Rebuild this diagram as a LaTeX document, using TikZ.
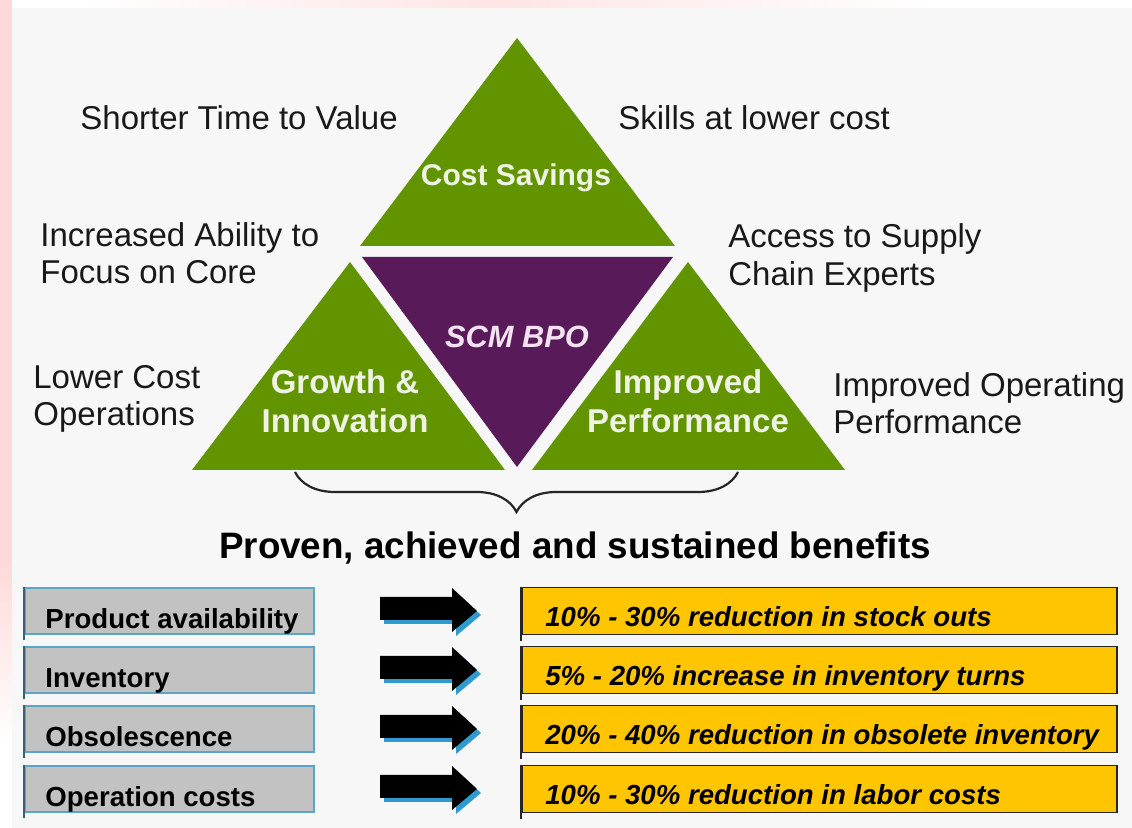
\documentclass[tikz,border=0pt]{standalone}
\usepackage{fontspec}
\setmainfont{Liberation Sans}
\usetikzlibrary{decorations.pathreplacing}
\definecolor{bg}{HTML}{F7F7F7}
\definecolor{tgreen}{RGB}{98,148,0}
\definecolor{tpurple}{RGB}{88,26,88}
\definecolor{tlight}{HTML}{EEF3E4}
\definecolor{scmtxt}{HTML}{F3E3F0}
\definecolor{gbox}{HTML}{C2C2C2}
\definecolor{gborder}{HTML}{5AA5C8}
\definecolor{ybox}{HTML}{FFC600}
\definecolor{ashadow}{HTML}{2F9ACF}
\definecolor{pinkish}{HTML}{FFD9D9}
\begin{document}
\begin{tikzpicture}[x=0.5pt,y=-0.5pt,
  side/.style={font=\fontsize{16.5}{18.75}\selectfont, align=left, anchor=west, inner sep=0, text=black!90},
  tri/.style={font=\bfseries\fontsize{16.5}{19.5}\selectfont, text=tlight, align=center, inner sep=0},
  rowtxt/.style={font=\bfseries\fontsize{13.8}{16}\selectfont, anchor=base west, inner sep=0},
  restxt/.style={font=\bfseries\itshape\fontsize{13.8}{16}\selectfont, anchor=base west, inner sep=0},
  graybox/.style={fill=gbox, draw=gborder, line width=1pt, minimum width=144.5pt, minimum height=23pt, inner sep=0},
  yellowbox/.style={fill=ybox, draw=black!85, line width=0.9pt, minimum width=297.5pt, minimum height=23.5pt, inner sep=0},
  blockarrow/.style={fill=black},
  arrowshadow/.style={fill=ashadow}
]
\useasboundingbox (0,0) rectangle (1132,828);
\fill[white] (0,0) rectangle (1132,828);
\fill[pinkish] (0,0) rectangle (12,560);
\shade[top color=pinkish, bottom color=white] (0,560) rectangle (14,745);
\shade[left color=white, right color=pinkish!70] (80,0) rectangle (500,8);
\shade[left color=pinkish!70, right color=white] (500,0) rectangle (930,8);
\fill[bg] (12,8) rectangle (1132,828);

% triangles
\fill[tgreen] (517,38) -- (675,246) -- (360,246) -- cycle;
\fill[tpurple] (362,257) -- (673,257) -- (517,467) -- cycle;
\fill[tgreen] (350,262) -- (505,470) -- (192,470) -- cycle;
\fill[tgreen] (688,262) -- (845,470) -- (532,470) -- cycle;

\node[tri, font=\bfseries\fontsize{15}{18}\selectfont] (cost) at (516,178) {Cost Savings};
\node[tri, text=scmtxt, font=\bfseries\itshape\fontsize{15.4}{18}\selectfont] (scm) at (517,337) {SCM BPO};
\node[tri] (growth) at (345,401) {Growth \&\\Innovation};
\node[tri] (perf) at (688,401) {Improved\\Performance};

% side labels
\node[side] (stv) at (80,118) {Shorter Time to Value};
\node[side] (slc) at (618,118) {Skills at lower cost};
\node[side] (iab) at (40,253) {Increased Ability to\\Focus on Core};
\node[side] (acc) at (728,258) {Access to Supply\\Chain Experts};
\node[side] (lco) at (33,399) {Lower Cost\\Operations};
\node[side] (iop) at (833,403) {Improved Operating\\Performance};

% brace
\coordinate (bl) at (295,472);
\coordinate (br) at (738,472);
\draw[decorate, decoration={brace, amplitude=20pt, mirror}, line width=1.1pt, black!85] (bl) -- (br);

\node[font=\bfseries\fontsize{18.4}{22}\selectfont, inner sep=0] (title) at (575,548) {Proven, achieved and sustained benefits};

% rows
\foreach \i/\c/\lab/\res in {1/611/Product availability/10\% - 30\% reduction in stock outs,
                             2/670/Inventory/5\% - 20\% increase in inventory turns,
                             3/729/Obsolescence/20\% - 40\% reduction in obsolete inventory,
                             4/789/Operation costs/10\% - 30\% reduction in labor costs}{
  \node[graybox] (g\i) at (169.5,\c) {};
  \draw[gborder!60!black, line width=1pt] (g\i.north west) -- ([yshift=-2.5pt]g\i.south west);
  \node[rowtxt] (gt\i) at (45,\c+18) {\lab};
  \fill[arrowshadow] (384,\c-10) -- (456,\c-10) -- (456,\c-19) -- (481,\c+4) -- (456,\c+25) -- (456,\c+13) -- (384,\c+13) -- cycle;
  \fill[blockarrow] (380,\c-14) -- (452,\c-14) -- (452,\c-23) -- (477,\c) -- (452,\c+21) -- (452,\c+9) -- (380,\c+9) -- cycle;
  \node[yellowbox] (y\i) at (819.5,\c) {};
  \draw[black!85, line width=1pt] (y\i.north west) -- ([yshift=-3pt]y\i.south west);
  \node[restxt] (yt\i) at (545,\c+16) {\res};
}
\end{tikzpicture}
\end{document}
